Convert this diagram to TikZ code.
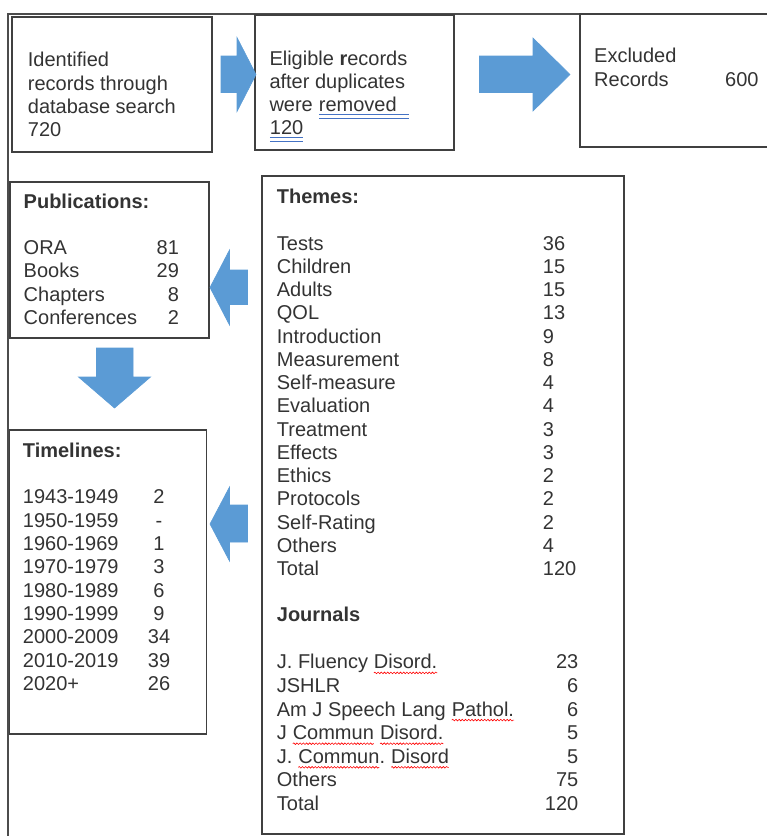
\documentclass[tikz,border=0pt]{standalone}
\usepackage{fontspec}
\setmainfont{Liberation Sans}
\usepackage{array}
\usetikzlibrary{decorations.pathmorphing}
\frenchspacing

\definecolor{arrowblue}{HTML}{5B9BD5}
\definecolor{markblue}{HTML}{4472C4}
\definecolor{inkgray}{HTML}{333333}

% spell-check squiggle and double underline as in the original
\newcommand{\redwave}[1]{\tikz[baseline=(w.base)]{\node[inner sep=0pt, outer sep=0pt, anchor=base] (w) {#1};
  \draw[red, line width=.6pt, decorate, decoration={snake, amplitude=.8pt, segment length=3.2pt}]
    ([yshift=-4pt]w.base west) -- ([yshift=-4pt]w.base east);}}
\newcommand{\blueline}[1]{\tikz[baseline=(w.base)]{\node[inner sep=0pt, outer sep=0pt, anchor=base] (w) {#1};
  \draw[markblue, line width=.9pt] ([yshift=-2.8pt]w.base west) -- ([yshift=-2.8pt]w.base east)
    ([yshift=-6.4pt]w.base west) -- ([yshift=-6.4pt]w.base east);}}

\tikzset{
  box/.style={draw=black!75, line width=1.3pt, inner sep=0pt, outer sep=0pt, anchor=north west},
  txt/.style={anchor=base west, inner sep=0pt, text=inkgray, font=\fontsize{20}{23.3}\selectfont},
  blockarrow/.style={fill=arrowblue, draw=arrowblue, line width=0.6pt, line join=miter},
  frame/.style={draw=black!70, line width=1.3pt}
}

\begin{document}
\begin{tikzpicture}[x=1pt,y=-1pt]
  \clip (0,0) rectangle (767,836);
  \useasboundingbox (0,0) rectangle (767,836);
  \draw[frame] (8,836) -- (8,14) -- (767,14);
  % Top row: search, duplicates, exclusion
  \node[box, minimum width=200pt, minimum height=135pt] (ident) at (12,17) {};
  \node[box, minimum width=199pt, minimum height=135pt] (elig)  at (255,15) {};
  \node[box, minimum width=220pt, minimum height=133pt] (excl)  at (580,14) {};
  \node[txt] (identtxt) at (27.7,66.7)
    {\begin{tabular}[t]{@{}l@{}}Identified\\records through\\database search\\720\end{tabular}};
  \node[txt] (eligtxt) at (269.3,65)
    {\begin{tabular}[t]{@{}l@{}}Eligible \textbf{r}ecords\\after duplicates\\were \blueline{removed\kern12pt}\\\blueline{120}\end{tabular}};
  \node[txt] (excltxt) at (594,62.7)
    {\begin{tabular}[t]{@{}l@{}}Excluded\\Records\hspace{56.5pt}600\end{tabular}};
  \path[blockarrow] (221,56) -- (237,56) -- (237,37.5) -- (256,74.5) -- (237,111.5) -- (237,92.5) -- (221,92.5) -- cycle;
  \path[blockarrow] (479.5,56) -- (533,56) -- (533,38) -- (570,74.5) -- (533,111) -- (533,92.5) -- (479.5,92.5) -- cycle;
  % Left column: publications and timelines
  \node[box, minimum width=199pt, minimum height=156pt] (pubs)  at (10,182) {};
  \node[box, minimum width=197pt, minimum height=304pt] (times) at (9.5,430) {};
  \node[txt] (pubstxt) at (23.5,208)
    {\begin{tabular}[t]{@{}w{l}{133pt}@{}r@{}}
      \textbf{Publications:} & \\ & \\
      ORA & 81\\ Books & 29\\ Chapters & 8\\ Conferences & 2
    \end{tabular}};
  \node[txt] (timestxt) at (22.7,457.3)
    {\begin{tabular}[t]{@{}w{l}{125pt}@{}c@{}}
      \textbf{Timelines:} & \\ & \\
      1943-1949 & 2\\ 1950-1959 & -\\ 1960-1969 & 1\\ 1970-1979 & 3\\ 1980-1989 & 6\\
      1990-1999 & 9\\ 2000-2009 & 34\\ 2010-2019 & 39\\ 2020+ & 26
    \end{tabular}};
  \path[blockarrow] (96.5,348) -- (133,348) -- (133,377) -- (150.5,377) -- (114.5,408) -- (78.5,377) -- (96.5,377) -- cycle;
  % Right column: themes and journals
  \node[box, minimum width=362pt, minimum height=658pt] (themes) at (262,176) {};
  \node[txt, font=\fontsize{20}{23.25}\selectfont] (themestxt) at (276.7,203.5)
    {\begin{tabular}[t]{@{}w{l}{266pt}@{}l@{}}
      \textbf{Themes:} & \\ & \\
      Tests & 36\\ Children & 15\\ Adults & 15\\ QOL & 13\\ Introduction & 9\\
      Measurement & 8\\ Self-measure & 4\\ Evaluation & 4\\ Treatment & 3\\ Effects & 3\\
      Ethics & 2\\ Protocols & 2\\ Self-Rating & 2\\ Others & 4\\ Total & 120
    \end{tabular}};
  \node[txt, font=\fontsize{20}{23.6}\selectfont] (journtxt) at (276.7,621.7)
    {\begin{tabular}[t]{@{}w{l}{268pt}@{}r@{}}
      \textbf{Journals} & \\ & \\
      J. Fluency \redwave{Disord.} & 23\\ JSHLR & 6\\
      Am J Speech Lang \redwave{Pathol.} & 6\\
      J \redwave{Commun} \redwave{Disord.} & 5\\
      J. \redwave{Commun}. \redwave{Disord} & 5\\
      Others & 75\\ Total & 120
    \end{tabular}};
  \path[blockarrow] (247.5,270) -- (229.5,270) -- (229.5,250) -- (210,287.5) -- (229.5,325) -- (229.5,304.5) -- (247.5,304.5) -- cycle;
  \path[blockarrow] (247.5,505) -- (229.5,505) -- (229.5,487) -- (210,524) -- (229.5,561) -- (229.5,542) -- (247.5,542) -- cycle;
\end{tikzpicture}
\end{document}
